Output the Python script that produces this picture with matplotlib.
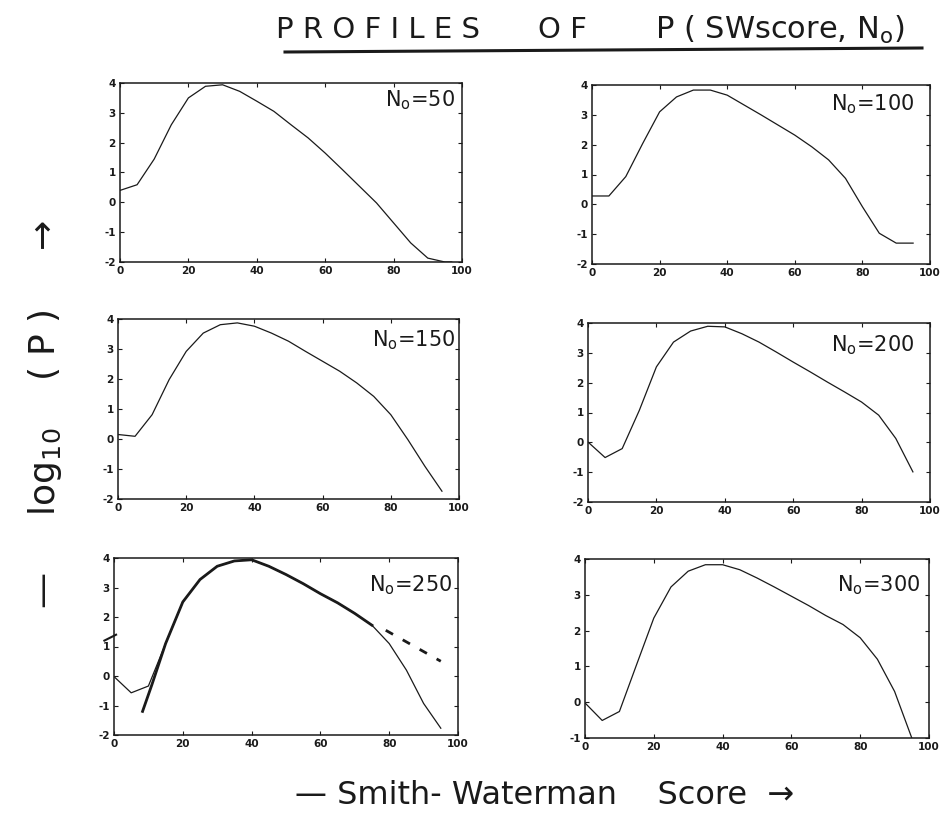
import numpy as np
import matplotlib
matplotlib.use("Agg")
import matplotlib.pyplot as plt

plt.rcParams["axes.unicode_minus"] = False

# scores sampled every 5 units
score = [0, 5, 10, 15, 20, 25, 30, 35, 40, 45, 50, 55, 60, 65, 70, 75, 80, 85, 90, 95]

logp_50 = [0.4, 0.59, 1.45, 2.6, 3.5, 3.89, 3.94, 3.72, 3.39, 3.05, 2.6, 2.16, 1.65, 1.1,
           0.54, -0.02, -0.69, -1.36, -1.87, -2.0]
logp_100 = [0.28, 0.28, 0.93, 2.04, 3.1, 3.6, 3.83, 3.83, 3.66, 3.33, 3.0, 2.66, 2.32, 1.93,
            1.49, 0.87, -0.08, -0.97, -1.3, -1.3]
logp_150 = [0.15, 0.09, 0.81, 1.98, 2.92, 3.53, 3.81, 3.87, 3.76, 3.53, 3.26, 2.92, 2.59, 2.26,
            1.87, 1.42, 0.81, -0.02, -0.91, -1.74]
logp_200 = [0.01, -0.51, -0.21, 1.07, 2.53, 3.36, 3.73, 3.89, 3.87, 3.64, 3.36, 3.03, 2.69, 2.36,
            2.02, 1.69, 1.35, 0.91, 0.13, -0.99]
logp_250 = [-0.02, -0.57, -0.34, 1.1, 2.51, 3.27, 3.72, 3.9, 3.94, 3.72, 3.44, 3.13, 2.79, 2.48,
            2.12, 1.72, 1.1, 0.2, -0.93, -1.77]
logp_300 = [-0.02, -0.51, -0.26, 1.05, 2.35, 3.22, 3.66, 3.84, 3.84, 3.7, 3.47, 3.22, 2.96, 2.7,
            2.42, 2.17, 1.8, 1.2, 0.3, -1.0]

# hand-drawn fit on the N0=250 panel
fit_x = [8.3, 11, 15, 20, 25, 30, 35, 40, 45, 50, 55, 60, 65, 70, 75]
fit_y = [-1.2, -0.3, 1.1, 2.51, 3.27, 3.72, 3.9, 3.94, 3.72, 3.44, 3.13, 2.79, 2.48, 2.12, 1.72]
extrap_x = [79, 95]
extrap_y = [1.55, 0.5]

panels = [
    (logp_50, "50", (120, 462, 83, 262), (-2, 4), (0.98, 0.905)),
    (logp_100, "100", (592, 930, 85, 264), (-2, 4), (0.955, 0.89)),
    (logp_150, "150", (118, 459, 319, 499), (-2, 4), (0.988, 0.88)),
    (logp_200, "200", (588, 930, 323, 502), (-2, 4), (0.955, 0.877)),
    (logp_250, "250", (114, 458, 558, 735), (-2, 4), (0.983, 0.847)),
    (logp_300, "300", (585, 929, 559, 738), (-1, 4), (0.975, 0.855)),
]

W, H = 941, 814
fig = plt.figure(figsize=(W / 100, H / 100), dpi=100)
ink = "#1a1a1a"

axes = []
for vals, n0, (x0, x1, y0, y1), ylim, (tx, ty) in panels:
    ax = fig.add_axes([x0 / W, 1 - y1 / H, (x1 - x0) / W, (y1 - y0) / H])
    # data for N0=50 runs a bit past 95
    xs = score
    if n0 == "50":
        xs = score + [97]
        vals = vals + [-2.0]
    ax.plot(xs, vals, color=ink, lw=0.9)
    ax.set_xlim(0, 100)
    ax.set_ylim(*ylim)
    ax.set_xticks(range(0, 101, 20))
    ax.set_yticks(range(ylim[0], 5))
    ax.tick_params(direction="in", length=3, width=0.8, top=True, right=True,
                   labelsize=7.5, pad=3, colors=ink)
    for lab in ax.get_xticklabels() + ax.get_yticklabels():
        lab.set_fontweight("bold")
    for sp in ax.spines.values():
        sp.set_linewidth(1.1)
        sp.set_color(ink)
    ax.text(tx, ty, r"N$_\mathregular{o}$=" + n0, transform=ax.transAxes, ha="right",
            va="center", fontsize=15, color=ink)
    axes.append(ax)

ax5 = axes[4]
ax5.plot(fit_x, fit_y, color=ink, lw=2.0)
ax5.plot(extrap_x, extrap_y, color=ink, lw=2.0, ls=(0, (3, 4)))
ax5.plot([-2.8, 0.6], [1.2, 1.4], color=ink, lw=1.5, clip_on=False)

# title with underline
fig.text(378 / W, 1 - 30 / H, "P R O F I L E S", ha="center", va="center",
         fontsize=21, color=ink)
fig.text(562 / W, 1 - 30 / H, "O F", ha="center", va="center", fontsize=21, color=ink)
fig.text(780 / W, 1 - 30 / H, "P ( SWscore, N$_\\mathregular{o}$)", ha="center",
         va="center", fontsize=22, color=ink)
fig.add_artist(plt.Line2D([285 / W, 922 / W], [1 - 52 / H, 1 - 48 / H], color=ink, lw=2.2))

fig.text(45 / W, 1 - 415 / H, "\u2014     log$_{10}$    ( P )     \u2192", rotation=90,
         ha="center", va="center", fontsize=26, color=ink)
fig.text(545 / W, 1 - 795 / H, "\u2014 Smith- Waterman    Score  \u2192",
         ha="center", va="center", fontsize=23, color=ink)

fig.savefig("out.png", dpi=100)
